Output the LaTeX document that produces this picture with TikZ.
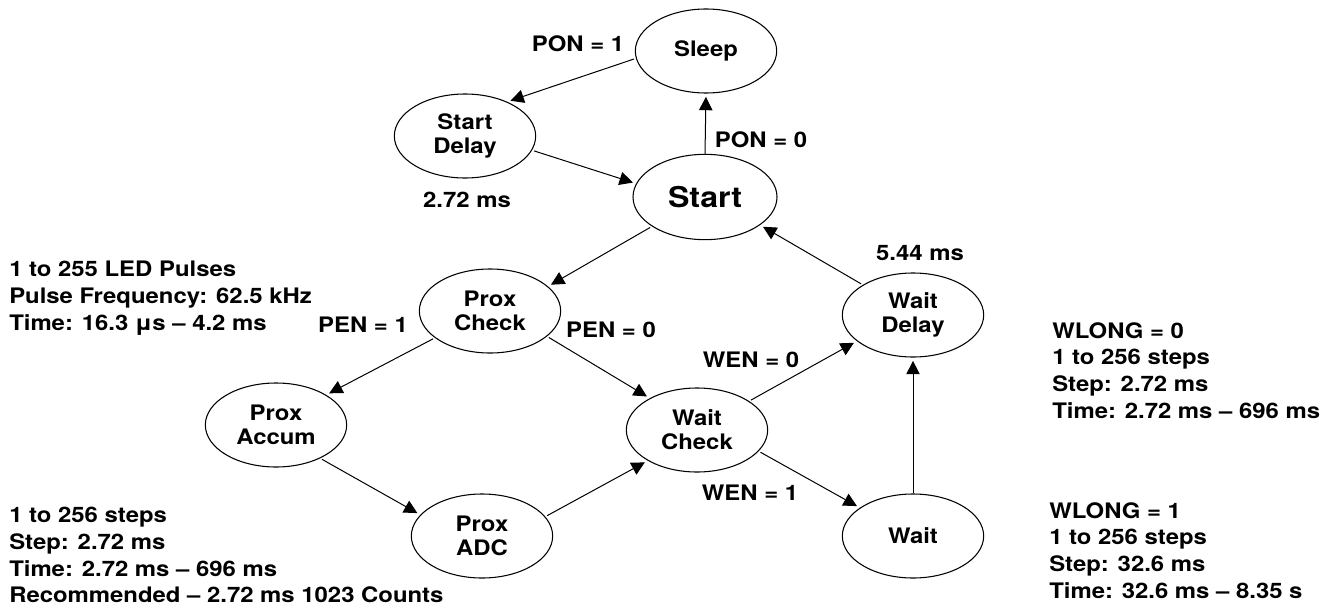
\documentclass[tikz,border=0pt]{standalone}
\usepackage{fontspec}
\setmainfont{TeX Gyre Heros}[FakeStretch=1.12]
\usetikzlibrary{shapes.geometric,arrows.meta}
\begin{document}
\begin{tikzpicture}[x=0.75pt,y=-0.75pt,
  state/.style={ellipse,draw,line width=0.8pt,minimum width=106pt,minimum height=63pt,inner sep=0pt,align=center,font=\fontsize{16}{18}\selectfont\bfseries},
  lbl/.style={font=\fontsize{16}{20}\selectfont\bfseries,inner sep=0pt},
  blk/.style={lbl,align=left,anchor=north west},
  arr/.style={line width=0.75pt,-{Triangle[length=10pt,width=10pt]},shorten >=2.5pt,shorten <=1.5pt}]
\useasboundingbox (0,0) rectangle (1330,610);
% states
\node[state] (sleep) at (706,51) {Sleep};
\node[state] (sdelay) at (465,136) {Start\\Delay};
\node[state,minimum width=108pt,minimum height=64pt,font=\fontsize{21.5}{26}\selectfont\bfseries] (start) at (705,197) {Start};
\node[state] (pcheck) at (490,311) {Prox\\Check};
\node[state] (paccum) at (276,425) {Prox\\Accum};
\node[state] (padc) at (482,536) {Prox\\ADC};
\node[state] (wcheck) at (697,430) {Wait\\Check};
\node[state] (wdelay) at (913,315) {Wait\\Delay};
\node[state] (wait) at (913,536) {Wait};
% connectors
\draw[arr] (sleep.186) -- (sdelay.39);
\draw[arr] (sdelay.348) -- (start.169);
\draw[arr,shorten <=0pt] (start.north) -- (sleep.south);
\draw[arr] (start.209) -- (pcheck.23);
\draw[arr] (wdelay.149) -- (start.333);
\draw[arr] (pcheck.206) -- (paccum.31);
\draw[arr] (pcheck.336) -- (wcheck.146);
\draw[arr] (paccum.323) -- (padc.161);
\draw[arr] (padc.17) -- (wcheck.212);
\draw[arr] (wcheck.29) -- (wdelay.205);
\draw[arr] (wcheck.341) -- (wait.152);
\draw[arr,shorten <=0pt] (wait.north) -- (wdelay.south);
% labels
\node[lbl,anchor=base] (l1) at (578,51) {PON = 1};
\node[lbl,anchor=base] (l2) at (761,147) {PON = 0};
\node[lbl,anchor=base] (l3) at (467,207) {2.72 ms};
\node[lbl,anchor=base] (l4) at (920,260) {5.44 ms};
\node[lbl,anchor=base] (l5) at (363,332) {PEN = 1};
\node[lbl,anchor=base] (l6) at (611,337) {PEN = 0};
\node[lbl,anchor=base] (l7) at (751,367) {WEN = 0};
\node[lbl,anchor=base] (l8) at (750,500) {WEN = 1};
% text blocks
\node[blk] (b1) at (9,261) {1 to 255 LED Pulses\\Pulse Frequency: 62.5 kHz\\Time: 16.3 μs – 4.2 ms};
\node[blk] (b2) at (9,507) {1 to 256 steps\\Step: 2.72 ms\\Time: 2.72 ms – 696 ms\\Recommended – 2.72 ms 1023 Counts};
\node[blk] (b3) at (1052,322) {WLONG = 0\\1 to 256 steps\\Step: 2.72 ms\\Time: 2.72 ms – 696 ms};
\node[blk] (b4) at (1049,502) {WLONG = 1\\1 to 256 steps\\Step: 32.6 ms\\Time: 32.6 ms – 8.35 s};
\end{tikzpicture}
\end{document}
